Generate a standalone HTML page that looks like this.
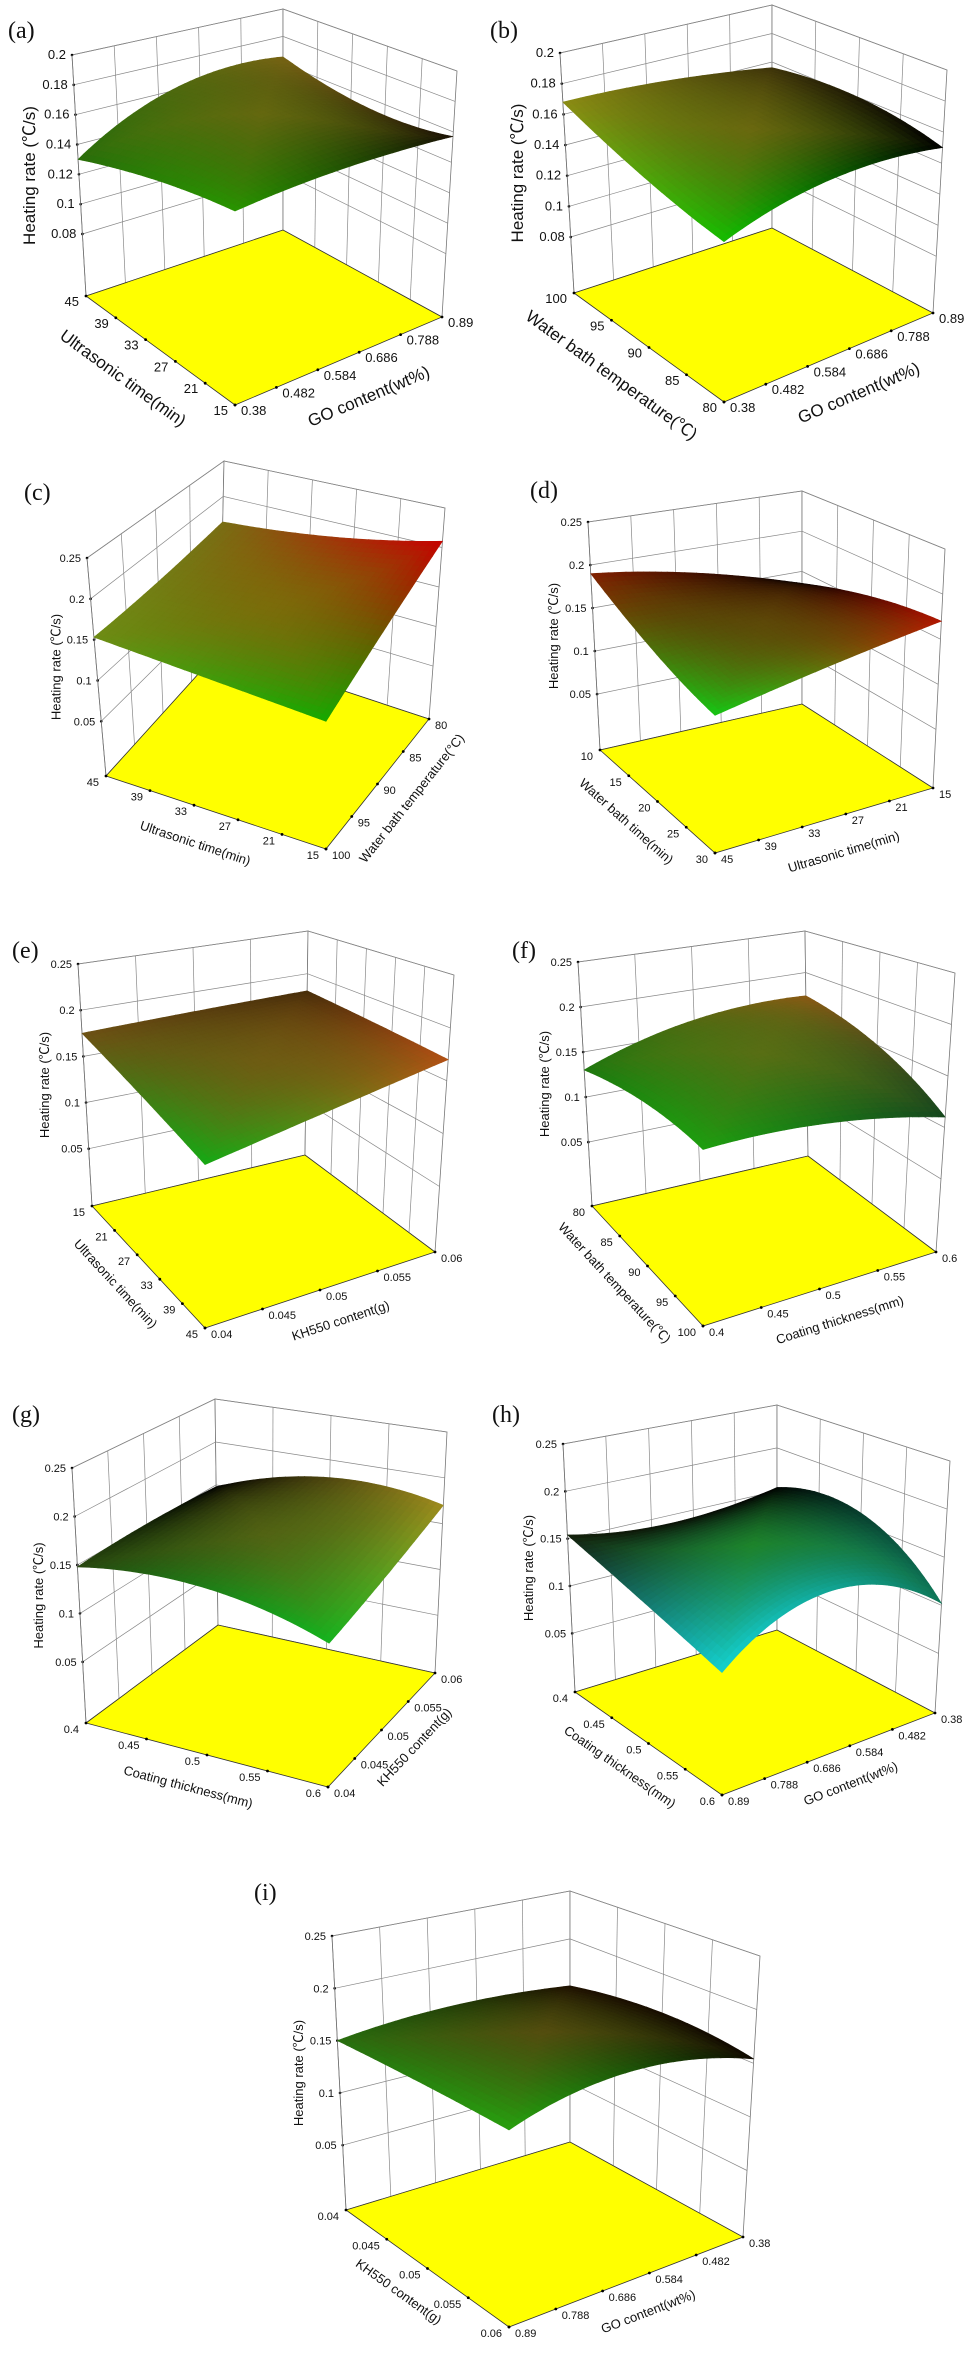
<!DOCTYPE html>
<html><head><meta charset="utf-8">
<style>
html,body{margin:0;padding:0;background:#fff;}
svg{display:block;}
text{font-family:"Liberation Sans","Noto Sans CJK SC",sans-serif;fill:#111;}
.plab{font-family:"Liberation Serif",serif;font-size:24px;}
</style></head>
<body>
<svg id="fig" width="975" height="2362" viewBox="0 0 975 2362" xmlns="http://www.w3.org/2000/svg"></svg>
<script>
// ---- data: 3x3 surface samples [s=0,0.5,1][t=0,0.5,1] (heating rate, ℃/s) ----
const surfA = [[0.130,0.162,0.165],[0.148,0.170,0.153],[0.158,0.161,0.157]];
const surfB = [[0.168,0.165,0.156],[0.150,0.160,0.160],[0.140,0.155,0.150]];
const surfC = [[0.153,0.155,0.164],[0.140,0.160,0.180],[0.128,0.165,0.208]];
const surfD = [[0.190,0.170,0.135],[0.150,0.155,0.160],[0.128,0.150,0.170]];
const surfE = [[0.175,0.178,0.180],[0.158,0.167,0.175],[0.142,0.156,0.170]];
const surfF = [[0.130,0.165,0.172],[0.150,0.170,0.150],[0.151,0.140,0.110]];
const surfG = [[0.148,0.151,0.148],[0.155,0.165,0.180],[0.127,0.145,0.170]];
const surfH = [[0.154,0.141,0.154],[0.131,0.160,0.162],[0.109,0.154,0.102]];
const surfI = [[0.150,0.158,0.151],[0.158,0.175,0.162],[0.163,0.180,0.154]];
// ---- tick labels ----
const zTicksAB = ["0.08","0.1","0.12","0.14","0.16","0.18","0.2"];
const zTicksRest = ["0.05","0.1","0.15","0.2","0.25"];
const ticksUltra = ["45","39","33","27","21","15"];
const ticksUltraRev = ["15","21","27","33","39","45"];
const ticksWaterT = ["100","95","90","85","80"];
const ticksWaterTRev = ["80","85","90","95","100"];
const ticksGO = ["0.38","0.482","0.584","0.686","0.788","0.89"];
const ticksGORev = ["0.89","0.788","0.686","0.584","0.482","0.38"];
const ticksBathTime = ["10","15","20","25","30"];
const ticksKH = ["0.04","0.045","0.05","0.055","0.06"];
const ticksCoat = ["0.4","0.45","0.5","0.55","0.6"];

// ---- panel geometry / style (not data) ----
const panels = [
 {id:"a",lab:[8,38],L:[86,296],Lt:[72,55],F:[235,405],Ft:[235,143],R:[442,317],Rt:[457,71],B:[283,230],Bt:[283,9],z0:0.0384,z1:0.2,zt:zTicksAB,surf:surfA,a1:ticksUltra,a2:ticksGO,t1:"Ultrasonic time(min)",t2:"GO content(wt%)",big:true,
  col:{L:[40,110,10],B:[120,100,20],F:[40,150,0],R:[25,15,5],C:[130,110,20]}},
 {id:"b",lab:[490,38],L:[574,293],Lt:[560,53],F:[724,402],Ft:[724,142],R:[933,313],Rt:[947,70],B:[772,228],Bt:[772,5],z0:0.0435,z1:0.2,zt:zTicksAB,surf:surfB,a1:ticksWaterT,a2:ticksGO,t1:"Water bath temperature(℃)",t2:"GO content(wt%)",big:true,
  col:{L:[140,140,20],B:[60,50,10],F:[20,190,0],R:[0,0,0],C:[140,110,20]}},
 {id:"c",lab:[24,500],L:[106,776],Lt:[87,558],F:[326,849],Ft:[326,614],R:[429,719],Rt:[445,508],B:[220,650],Bt:[224,461],z0:-0.017,z1:0.25,zt:zTicksRest,surf:surfC,a1:ticksUltra,a2:ticksWaterT,t1:"Ultrasonic time(min)",t2:"Water bath temperature(°C)",
  col:{L:[110,140,20],B:[120,110,20],F:[20,170,0],R:[200,0,0],C:[130,110,10]}},
 {id:"c2"},
 {id:"d",lab:[530,498],L:[600,750],Lt:[588,522],F:[715,853],Ft:[715,598],R:[933,788],Rt:[945,549],B:[802,704],Bt:[802,491],z0:-0.015,z1:0.25,zt:zTicksRest,surf:surfD,a1:ticksBathTime,a2:ticksUltra,t1:"Water bath time(min)",t2:"Ultrasonic time(min)",
  col:{L:[130,30,0],B:[0,0,0],F:[20,200,20],R:[180,20,0],C:[100,80,10]}},
 {id:"e",lab:[12,958],L:[92,1206],Lt:[78,964],F:[205,1328],Ft:[205,1050],R:[435,1252],Rt:[454,975],B:[305,1155],Bt:[308,931],z0:-0.012,z1:0.25,zt:zTicksRest,surf:surfE,a1:ticksUltraRev,a2:ticksKH,t1:"Ultrasonic time(min)",t2:"KH550 content(g)",
  col:{L:[110,80,20],B:[70,45,10],F:[20,170,20],R:[180,80,20],C:[120,90,20]}},
 {id:"f",lab:[512,958],L:[592,1206],Lt:[578,962],F:[703,1326],Ft:[703,1048],R:[936,1252],Rt:[955,973],B:[808,1156],Bt:[805,931],z0:-0.021,z1:0.25,zt:zTicksRest,surf:surfF,a1:ticksWaterTRev,a2:ticksCoat,t1:"Water bath temperature(℃)",t2:"Coating thickness(mm)",
  col:{L:[30,120,15],B:[140,90,20],F:[30,160,15],R:[20,70,30],C:[110,110,20]}},
 {id:"g",lab:[12,1422],L:[86,1723],Lt:[72,1468],F:[328,1787],Ft:[330,1517],R:[435,1673],Rt:[447,1432],B:[218,1625],Bt:[215,1399],z0:-0.013,z1:0.25,zt:zTicksRest,surf:surfG,a1:ticksCoat,a2:ticksKH,t1:"Coating thickness(mm)",t2:"KH550 content(g)",
  col:{L:[40,70,15],B:[0,0,0],F:[20,180,30],R:[160,140,30],C:[100,100,20]}},
 {id:"h",lab:[492,1422],L:[575,1692],Lt:[563,1444],F:[722,1795],Ft:[722,1530],R:[935,1713],Rt:[950,1461],B:[777,1630],Bt:[777,1405],z0:-0.012,z1:0.25,zt:zTicksRest,surf:surfH,a1:ticksCoat,a2:ticksGORev,t1:"Coating thickness(mm)",t2:"GO content(wt%)",
  col:{L:[20,30,10],B:[0,0,0],F:[20,210,210],R:[15,120,90],C:[40,160,20]}},
 {id:"i",lab:[254,1900],L:[346,2210],Lt:[332,1936],F:[509,2327],Ft:[509,2032],R:[743,2237],Rt:[760,1956],B:[570,2142],Bt:[570,1891],z0:-0.012,z1:0.25,zt:zTicksRest,surf:surfI,a1:ticksKH,a2:ticksGORev,t1:"KH550 content(g)",t2:"GO content(wt%)",
  col:{L:[40,110,15],B:[30,15,0],F:[40,160,15],R:[15,8,0],C:[120,80,20]}}
].filter(p=>p.L);

const NS="http://www.w3.org/2000/svg";
const svg=document.getElementById("fig");
function mk(tag,attrs,parent){const e=document.createElementNS(NS,tag);for(const k in attrs)e.setAttribute(k,attrs[k]);(parent||svg).appendChild(e);return e;}
function lerp(a,b,f){return [a[0]+(b[0]-a[0])*f,a[1]+(b[1]-a[1])*f];}
function bil(L,F,R,B,s,t){
  const w1=(1-s)*(1-t),w2=s*(1-t),w3=s*t,w4=(1-s)*t;
  return [L[0]*w1+F[0]*w2+R[0]*w3+B[0]*w4, L[1]*w1+F[1]*w2+R[1]*w3+B[1]*w4];
}
function proj(p,s,t,z){
  const fl=bil(p.L,p.F,p.R,p.B,s,t), tp=bil(p.Lt,p.Ft,p.Rt,p.Bt,s,t);
  return lerp(fl,tp,(z-p.z0)/(p.z1-p.z0));
}
function lb(x){return [2*(x-0.5)*(x-1),-4*x*(x-1),2*x*(x-0.5)];}
function zAt(S,s,t){const a=lb(s),b=lb(t);let z=0;for(let i=0;i<3;i++)for(let j=0;j<3;j++)z+=a[i]*b[j]*S[i][j];return z;}
function pts(arr){return arr.map(q=>q[0].toFixed(1)+","+q[1].toFixed(1)).join(" ");}
function colorAt(c,s,t){
  const w1=(1-s)*(1-t),w2=s*(1-t),w3=s*t,w4=(1-s)*t;
  const cen=Math.max(0,1-2*Math.max(Math.abs(s-0.5),Math.abs(t-0.5)));
  const out=[];
  for(let k=0;k<3;k++){let v=c.L[k]*w1+c.F[k]*w2+c.R[k]*w3+c.B[k]*w4;v=v*(1-cen*0.6)+c.C[k]*cen*0.6;out.push(Math.round(v));}
  return "rgb("+out.join(",")+")";
}

panels.forEach(p=>{
  const g=mk("g",{});
  
  
  const fs=p.big?13:11, ts=p.big?17:13;
  // panel label
  const pl=mk("text",{x:p.lab[0],y:p.lab[1],class:"plab"},g);
  pl.textContent="("+p.id+")";
  
  
  // walls
  const wallL=mk("polygon",{points:pts([p.L,p.B,p.Bt,p.Lt]),fill:"#fff",stroke:"#777","stroke-width":0.8},g);
  
  
  const wallR=mk("polygon",{points:pts([p.B,p.R,p.Rt,p.Bt]),fill:"#fff",stroke:"#777","stroke-width":0.8},g);
  
  
  const n1=p.a1.length-1,n2=p.a2.length-1;
  for(let j=1;j<n2;j++){const t=j/n2;const a=proj(p,0,t,p.z0),b=proj(p,0,t,p.z1);
    const l=mk("line",{x1:a[0],y1:a[1],x2:b[0],y2:b[1],stroke:"#888","stroke-width":0.7},g);
    
    }
  for(let i=1;i<n1;i++){const s=i/n1;const a=proj(p,s,1,p.z0),b=proj(p,s,1,p.z1);
    const l=mk("line",{x1:a[0],y1:a[1],x2:b[0],y2:b[1],stroke:"#888","stroke-width":0.7},g);
    
    }
  p.zt.forEach(v=>{const z=parseFloat(v);
    const a=proj(p,0,0,z),b=proj(p,0,1,z),c=proj(p,1,1,z);
    const l=mk("polyline",{points:pts([a,b,c]),fill:"none",stroke:"#888","stroke-width":0.7},g);
    
    
    const tl=mk("text",{x:a[0]-6,y:a[1]+4,"text-anchor":"end","font-size":fs},g);
    tl.textContent=v;
    
    
    const d=mk("circle",{cx:a[0],cy:a[1],r:1.3,fill:"#000"},g);
    
    
  });
  // z axis line
  const za=mk("line",{x1:p.L[0],y1:p.L[1],x2:p.Lt[0],y2:p.Lt[1],stroke:"#777","stroke-width":0.8},g);
  
  
  // y title
  const zm=lerp(p.L,p.Lt,0.5);
  const yt=mk("text",{x:0,y:0,"text-anchor":"middle","font-size":ts,transform:`translate(${zm[0]-(p.big?44:36)},${zm[1]}) rotate(-90)`},g);
  yt.textContent="Heating rate (℃/s)";
  
  
  // floor
  const fl=mk("polygon",{points:pts([p.L,p.F,p.R,p.B]),fill:"#ffff00",stroke:"#333","stroke-width":0.8},g);
  
  
  // axis ticks
  p.a1.forEach((v,i)=>{const q=lerp(p.L,p.F,i/n1);
    const d=mk("circle",{cx:q[0],cy:q[1],r:1.4,fill:"#000"},g);
    
    
    const tl=mk("text",{x:q[0]-7,y:q[1]+10,"text-anchor":"end","font-size":fs},g);
    tl.textContent=v;
    
    });
  p.a2.forEach((v,i)=>{const q=lerp(p.F,p.R,i/n2);
    const d=mk("circle",{cx:q[0],cy:q[1],r:1.4,fill:"#000"},g);
    
    
    const tl=mk("text",{x:q[0]+6,y:q[1]+10,"text-anchor":"start","font-size":fs},g);
    tl.textContent=v;
    
    });
  // axis titles
  function title(A,Bp,txt,side,nm){
    const dx=Bp[0]-A[0],dy=Bp[1]-A[1],len=Math.hypot(dx,dy),ux=dx/len,uy=dy/len;
    let nx=-uy,ny=ux; if(ny<0){nx=-nx;ny=-ny;}
    const off=p.big?50:40, m=lerp(A,Bp,0.5);
    const cx=m[0]+nx*off+ux*side*(p.big?14:10), cy=m[1]+ny*off+uy*side*(p.big?14:10);
    const ang=Math.atan2(dy,dx)*180/Math.PI;
    const t=mk("text",{x:0,y:0,"text-anchor":"middle","font-size":ts,transform:`translate(${cx.toFixed(1)},${cy.toFixed(1)}) rotate(${ang.toFixed(1)})`},g);
    t.textContent=txt;
    
    
  }
  title(p.L,p.F,p.t1,-1,'x-axis-title');
  title(p.F,p.R,p.t2,1,'y-axis-title');
  // surface
  const N=36, quads=[];
  for(let i=0;i<N;i++)for(let j=0;j<N;j++){
    const s0=i/N,s1=(i+1)/N,t0=j/N,t1=(j+1)/N;
    const c=[[s0,t0],[s1,t0],[s1,t1],[s0,t1]].map(([s,t])=>proj(p,s,t,zAt(p.surf,s,t)));
    quads.push({key:(s0+s1)/2+(1-(t0+t1)/2),c,col:colorAt(p.col,(s0+s1)/2,(t0+t1)/2)});
  }
  quads.sort((a,b)=>a.key-b.key);
  const sg=mk("g",{},g);
  
  
  quads.forEach(q=>{
    const e=mk("polygon",{points:pts(q.c),fill:q.col,stroke:q.col,"stroke-width":0.6},sg);
    
    
  });
});
</script>
</body></html>
